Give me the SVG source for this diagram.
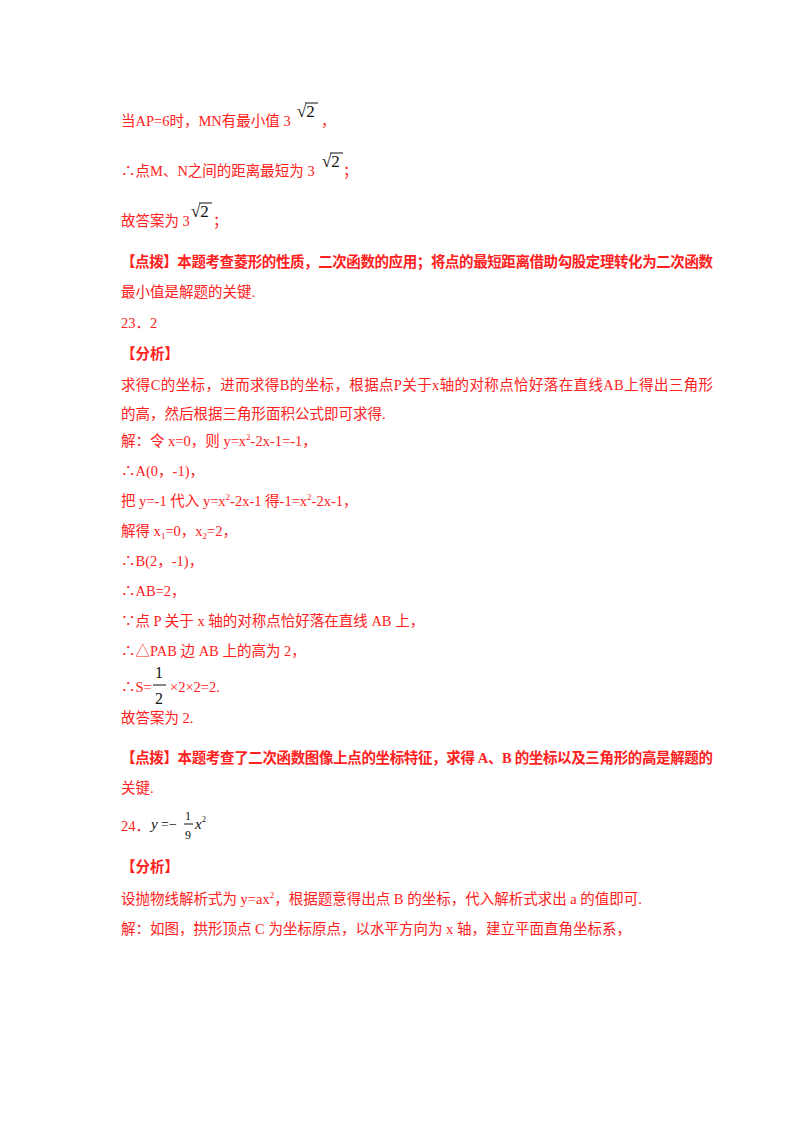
<svg xmlns="http://www.w3.org/2000/svg" width="800" height="1132" viewBox="0 0 800 1132">
<style>
text{font-family:"Liberation Serif","Noto Sans CJK SC",serif;font-size:14.5px;fill:#ff2020}
.b{font-weight:bold}
.m{fill:#111;font-size:17px}
.s{fill:#111;font-size:14px}
.i{fill:#111;font-style:italic;font-size:15px}
</style>
<rect width="800" height="1132" fill="#fff"/>
<g id="page">
<text x="121" y="126">当AP=6时，MN有最小值 3</text>
<text class="m" x="297" y="117">√2</text><line x1="305" y1="103" x2="318" y2="103" stroke="#111"/>
<text x="321" y="126">，</text>
<text x="121" y="176">∴点M、N之间的距离最短为 3</text>
<text class="m" x="322" y="167">√2</text><line x1="330" y1="153" x2="343" y2="153" stroke="#111"/>
<text x="343" y="176">；</text>
<text x="121" y="226">故答案为 3</text>
<text class="m" x="191" y="217">√2</text><line x1="199" y1="203" x2="212" y2="203" stroke="#111"/>
<text x="213" y="226">；</text>
<text class="b" x="121" y="267" textLength="592">【点拨】本题考查菱形的性质，二次函数的应用；将点的最短距离借助勾股定理转化为二次函数</text>
<text x="121" y="297">最小值是解题的关键.</text>
<text x="121" y="328">23．2</text>
<text class="b" x="121" y="359">【分析】</text>
<text x="121" y="390" textLength="592">求得C的坐标，进而求得B的坐标，根据点P关于x轴的对称点恰好落在直线AB上得出三角形</text>
<text x="121" y="419">的高，然后根据三角形面积公式即可求得.</text>
<text x="121" y="446">解：令 x=0，则 y=x<tspan font-size="9" dy="-6">2</tspan><tspan dy="6">-2x-1=-1，</tspan></text>
<text x="121" y="476">∴A(0，-1)，</text>
<text x="121" y="506">把 y=-1 代入 y=x<tspan font-size="9" dy="-6">2</tspan><tspan dy="6">-2x-1 得-1=x</tspan><tspan font-size="9" dy="-6">2</tspan><tspan dy="6">-2x-1，</tspan></text>
<text x="121" y="536">解得 x<tspan font-size="9" dy="3">1</tspan><tspan dy="-3">=0，x</tspan><tspan font-size="9" dy="3">2</tspan><tspan dy="-3">=2，</tspan></text>
<text x="121" y="566">∴B(2，-1)，</text>
<text x="121" y="596">∴AB=2，</text>
<text x="121" y="626">∵点 P 关于 x 轴的对称点恰好落在直线 AB 上，</text>
<text x="121" y="656">∴△PAB 边 AB 上的高为 2，</text>
<text x="121" y="692">∴S=</text>
<text class="s" x="155" y="678" style="font-size:16px">1</text><line x1="153" y1="685" x2="166" y2="685" stroke="#111"/><text class="s" x="155" y="704" style="font-size:16px">2</text>
<text x="170" y="692">×2×2=2.</text>
<text x="121" y="723">故答案为 2.</text>
<text class="b" x="121" y="763" textLength="592">【点拨】本题考查了二次函数图像上点的坐标特征，求得 A、B 的坐标以及三角形的高是解题的</text>
<text x="121" y="793">关键.</text>
<text x="121" y="831">24．</text>
<text class="i" x="151" y="829">y</text><text class="s" x="161" y="829">=−</text>
<text class="s" x="185" y="820" style="font-size:12px">1</text><line x1="184" y1="824" x2="193" y2="824" stroke="#111"/><text class="s" x="185" y="839" style="font-size:12px">9</text>
<text class="i" x="195" y="829">x</text><text class="s" x="202" y="822" style="font-size:8px">2</text>
<text class="b" x="121" y="872">【分析】</text>
<text x="121" y="904">设抛物线解析式为 y=ax<tspan font-size="9" dy="-6">2</tspan><tspan dy="6">，根据题意得出点 B 的坐标，代入解析式求出 a 的值即可.</tspan></text>
<text x="121" y="934">解：如图，拱形顶点 C 为坐标原点，以水平方向为 x 轴，建立平面直角坐标系，</text>
</g>
</svg>
